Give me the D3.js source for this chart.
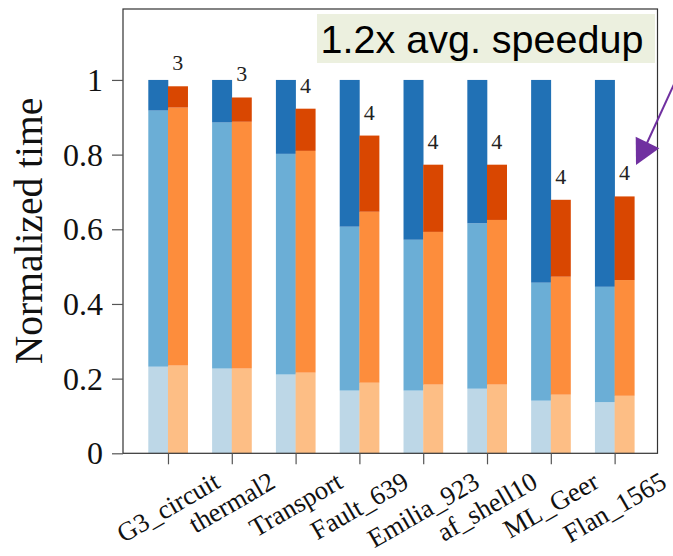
<!DOCTYPE html>
<html>
<head>
<meta charset="utf-8">
<script src="https://cdn.jsdelivr.net/npm/d3@7"></script>
<style>
  html, body { margin: 0; padding: 0; background: #fff; }
  svg { display: block; }
</style>
</head>
<body>
<svg id="chart" width="673" height="556"></svg>
<script>
// ---- data ----
const categories = ["G3_circuit","thermal2","Transport","Fault_639","Emilia_923","af_shell10","ML_Geer","Flan_1565"];
// baseline (blue) stacked segments, bottom -> top
const blueLow = [0.232,0.227,0.211,0.168,0.168,0.173,0.141,0.137];
const blueMid = [0.686,0.659,0.591,0.439,0.404,0.443,0.316,0.309];
const blueTop = [0.082,0.114,0.198,0.393,0.428,0.384,0.543,0.554];
// ours (orange) stacked segments, bottom -> top
const orangeLow = [0.235,0.227,0.216,0.189,0.184,0.184,0.157,0.154];
const orangeMid = [0.691,0.661,0.594,0.458,0.409,0.441,0.316,0.310];
const orangeTop = [0.057,0.065,0.113,0.204,0.180,0.148,0.206,0.224];
const barLabels = ["3","3","4","4","4","4","4","4"];
const yTicks = [0, 0.2, 0.4, 0.6, 0.8, 1];
const yTickLabels = ["0","0.2","0.4","0.6","0.8","1"];
const noteText = "1.2x avg. speedup";
const yTitle = "Normalized time";

const blueColors = ["#bdd7e7","#6baed6","#2171b5"];
const orangeColors = ["#fdbe85","#fd8d3c","#d94701"];

// ---- layout ----
const svg = d3.select("#chart");
const plot = {left: 123, right: 657.5, top: 9, bottom: 453.3};

const x = d3.scaleBand().domain(categories).range([148.3, 634.3]).paddingInner(0.383).paddingOuter(0);
const sub = d3.scaleBand().domain(["base","ours"]).range([0, x.bandwidth()]);
const y = d3.scaleLinear().domain([0, 1.19]).range([plot.bottom, plot.top]);
const xc = c => x(c) + x.bandwidth() / 2;

const serif = "Liberation Serif";

const series = [
  {key: "base", segs: [blueLow, blueMid, blueTop], colors: blueColors},
  {key: "ours", segs: [orangeLow, orangeMid, orangeTop], colors: orangeColors}
];

const gBars = svg.append("g");
series.forEach(s => {
  categories.forEach((c, i) => {
    let acc = 0;
    s.segs.forEach((arr, k) => {
      const v0 = acc, v1 = acc + arr[i];
      acc = v1;
      gBars.append("rect")
        .attr("x", x(c) + sub(s.key))
        .attr("width", sub.bandwidth() + 0.3)
        .attr("y", y(v1))
        .attr("height", y(v0) - y(v1))
        .attr("fill", s.colors[k]);
    });
  });
});

// labels above orange bars
categories.forEach((c, i) => {
  const tot = orangeLow[i] + orangeMid[i] + orangeTop[i];
  svg.append("text")
    .attr("x", x(c) + sub("ours") + sub.bandwidth() / 2)
    .attr("y", y(tot) - 24 + 8)
    .attr("text-anchor", "middle")
    .style("font-family", serif)
    .style("font-size", "22px")
    .attr("fill", "#222")
    .text(barLabels[i]);
});

// frame
svg.append("rect")
  .attr("x", plot.left).attr("y", plot.top)
  .attr("width", plot.right - plot.left).attr("height", plot.bottom - plot.top)
  .attr("fill", "none").attr("stroke", "#333").attr("stroke-width", 1.2);

// y axis
const yAxis = d3.axisLeft(y).tickValues(yTicks).tickSize(11).tickPadding(9)
  .tickFormat((d, i) => yTickLabels[i]);
const gy = svg.append("g").attr("transform", `translate(${plot.left},0)`).call(yAxis);
gy.attr("font-family", null).attr("font-size", null);
gy.select(".domain").remove();
gy.selectAll(".tick line").attr("stroke", "#555").attr("stroke-width", 1.2);
gy.selectAll(".tick text")
  .style("font-family", serif).style("font-size", "32px").attr("fill", "#111")
  .attr("dy", "0.33em");

// x axis ticks at group centres
const xPoint = d3.scalePoint().domain(categories).range([xc(categories[0]), xc(categories[categories.length - 1])]);
const gx = svg.append("g").attr("transform", `translate(0,${plot.bottom})`)
  .call(d3.axisBottom(xPoint).tickSize(11).tickFormat(""));
gx.select(".domain").remove();
gx.selectAll(".tick line").attr("stroke", "#555").attr("stroke-width", 1.2);

// x tick labels rotated 30deg, top-aligned bbox centered on tick
const labelTop = 468;
const fs = 26.5;
const ang = 30 * Math.PI / 180;
categories.forEach(c => {
  const cx = xPoint(c);
  const t = svg.append("text")
    .style("font-family", serif).style("font-size", fs + "px").attr("fill", "#111")
    .attr("text-anchor", "middle").attr("dominant-baseline", "central")
    .text(c);
  const L = t.node().getComputedTextLength();
  const h = fs * 0.95;
  const bh = L * Math.sin(ang) + h * Math.cos(ang);
  const cy = labelTop + bh / 2;
  t.attr("transform", `translate(${cx},${cy}) rotate(-30)`);
});

// y title
svg.append("text")
  .attr("transform", "translate(42,231) rotate(-90)")
  .attr("text-anchor", "middle")
  .style("font-family", serif).style("font-size", "39.5px").attr("fill", "#111")
  .text(yTitle);

// note box
svg.append("rect")
  .attr("x", 317).attr("y", 14).attr("width", 338).attr("height", 49)
  .attr("fill", "#ecf0df");
svg.append("text")
  .attr("x", 482).attr("y", 53.3)
  .attr("text-anchor", "middle")
  .style("font-family", "Liberation Sans")
  .style("font-size", "39.5px").attr("fill", "#000")
  .text(noteText);

// purple annotation arrow
const purple = "#7030a0";
svg.append("line")
  .attr("x1", 675).attr("y1", 82).attr("x2", 647).attr("y2", 143)
  .attr("stroke", purple).attr("stroke-width", 2);
svg.append("path")
  .attr("d", "M636,165 L635.7,136.7 L659.3,148.3 Z")
  .attr("fill", purple);
</script>
</body>
</html>
